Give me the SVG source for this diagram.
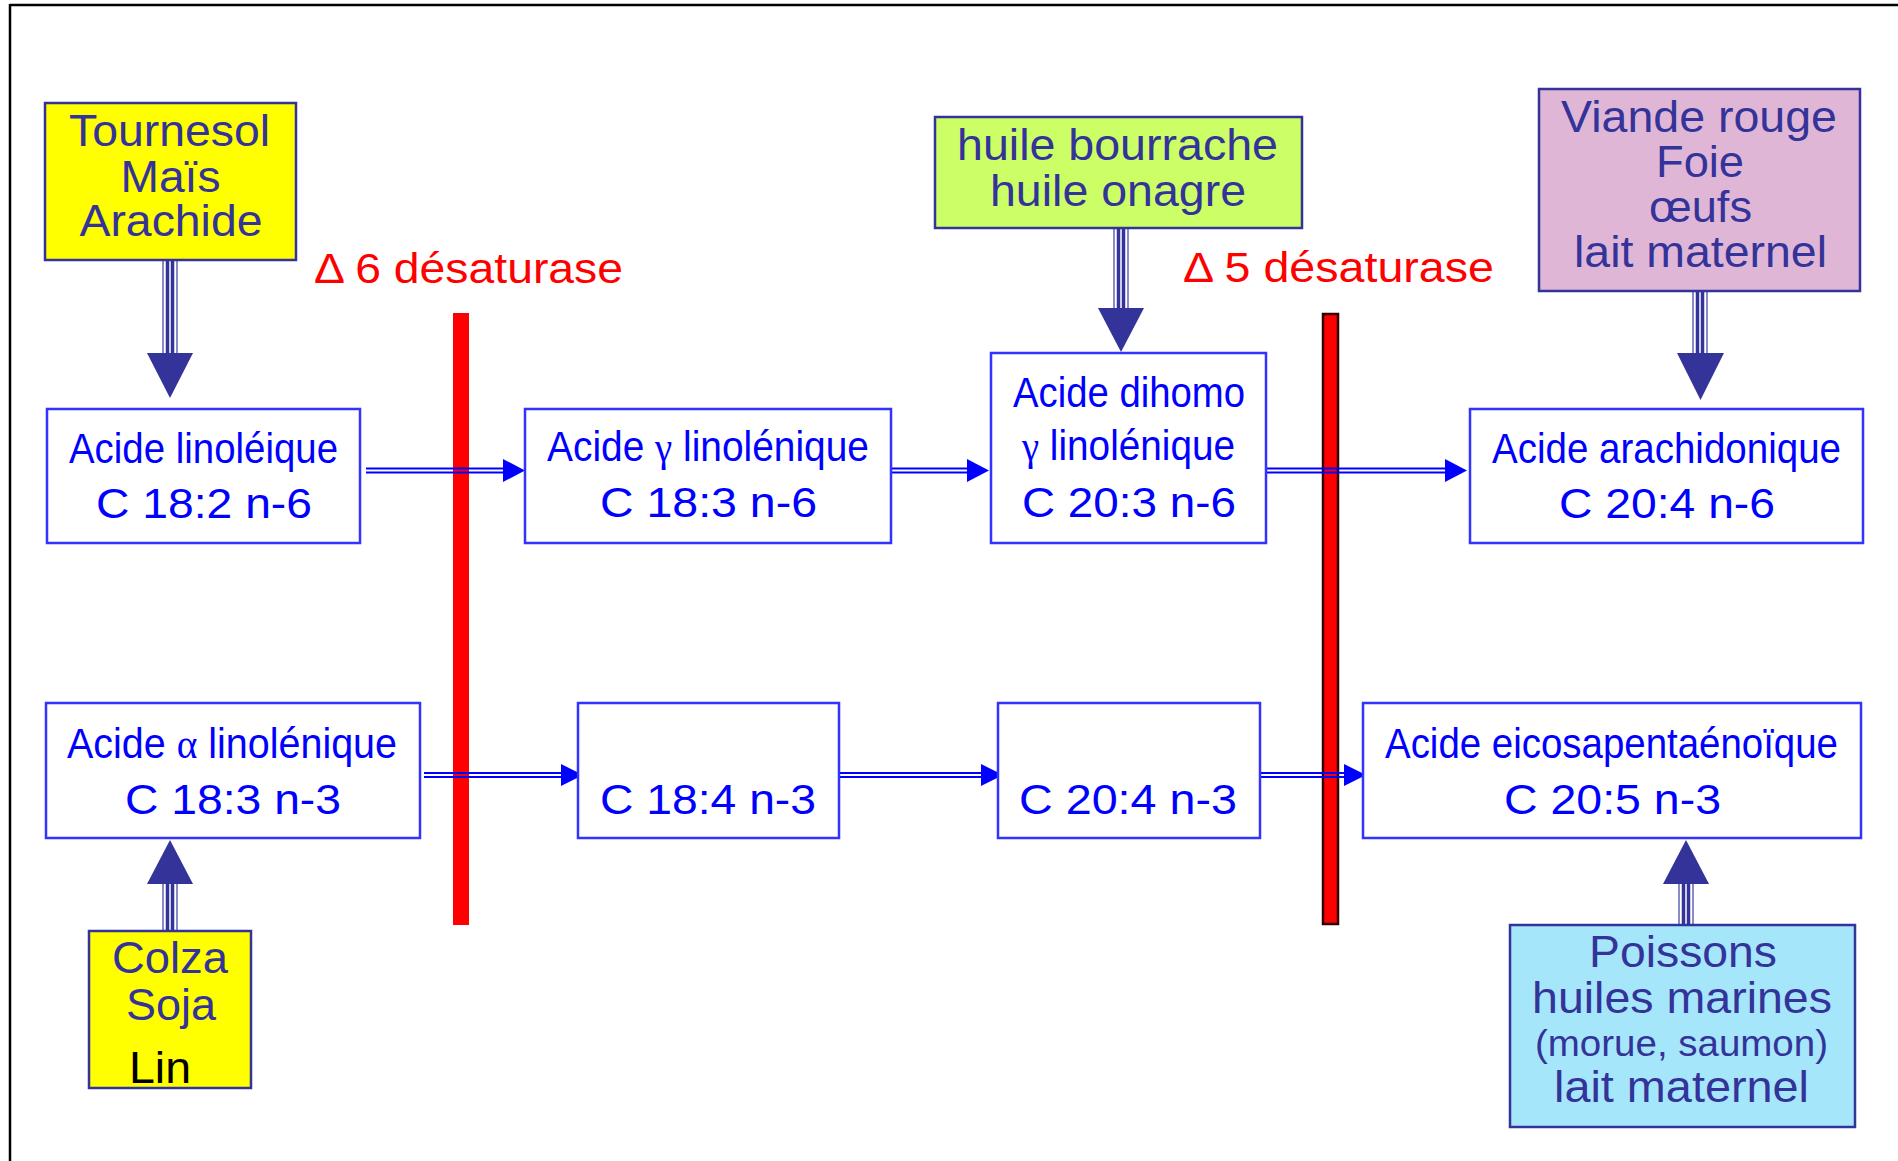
<svg xmlns="http://www.w3.org/2000/svg" width="1898" height="1161" viewBox="0 0 1898 1161">
<defs>
<style>
text{font-family:"Liberation Sans",Arial,sans-serif;}
.greek{font-family:"Liberation Serif","Times New Roman",serif;}
.node{fill:#ffffff;stroke:#3333ff;stroke-width:2.5;}
.nt{fill:#0000ff;font-size:43px;}
.src{stroke:#333399;stroke-width:2.5;}
.st{fill:#333399;font-size:44px;}
.enz{fill:#ff0000;font-size:42px;}
.hl{stroke:#0000ff;stroke-width:2.2;fill:none;}
.hh{fill:#0000ff;}
.vo{stroke:#8a8ac8;stroke-width:2;fill:none;}
.vi{stroke:#333399;stroke-width:3.5;fill:none;}
.vh{fill:#333399;}
</style>
</defs>
<rect x="0" y="0" width="1898" height="1161" fill="#ffffff"/>
<g id="frame">
<line x1="10" y1="5" x2="1898" y2="5" stroke="#000" stroke-width="2.5"/>
<line x1="10" y1="4" x2="10" y2="1161" stroke="#000" stroke-width="2.5"/>
</g>
<g id="enzymes">
<rect x="453" y="313" width="16" height="612" fill="#ff0000"/>
<rect x="1323" y="314" width="15" height="610" fill="#ff0000" stroke="#330000" stroke-width="2.5"/>
<text class="enz" x="314" y="283" textLength="309" lengthAdjust="spacingAndGlyphs">Δ 6 désaturase</text>
<text class="enz" x="1183" y="282" textLength="311" lengthAdjust="spacingAndGlyphs">Δ 5 désaturase</text>
</g>
<g id="connectors">
<g id="a1"><line class="hl" x1="366" y1="468.5" x2="506" y2="468.5"/><line class="hl" x1="366" y1="472.5" x2="506" y2="472.5"/><polygon class="hh" points="503,459 525,470.5 503,482"/></g>
<g id="a2"><line class="hl" x1="891" y1="468.5" x2="970" y2="468.5"/><line class="hl" x1="891" y1="472.5" x2="970" y2="472.5"/><polygon class="hh" points="967,459 989,470.5 967,482"/></g>
<g id="a3"><line class="hl" x1="1266" y1="468.5" x2="1448" y2="468.5"/><line class="hl" x1="1266" y1="472.5" x2="1448" y2="472.5"/><polygon class="hh" points="1445,459 1467,470.5 1445,482"/></g>
<g id="b1"><line class="hl" x1="424" y1="773" x2="564" y2="773"/><line class="hl" x1="424" y1="777" x2="564" y2="777"/><polygon class="hh" points="561,764 583,775 561,786"/></g>
<g id="b2"><line class="hl" x1="831" y1="773" x2="984" y2="773"/><line class="hl" x1="831" y1="777" x2="984" y2="777"/><polygon class="hh" points="981,764 1003,775 981,786"/></g>
<g id="b3"><line class="hl" x1="1250" y1="773" x2="1347" y2="773"/><line class="hl" x1="1250" y1="777" x2="1347" y2="777"/><polygon class="hh" points="1344,764 1366,775 1344,786"/></g>
<g id="s1"><line class="vo" x1="163" y1="260" x2="163" y2="354"/><line class="vo" x1="177" y1="260" x2="177" y2="354"/><line class="vi" x1="167.5" y1="260" x2="167.5" y2="354"/><line class="vi" x1="172.5" y1="260" x2="172.5" y2="354"/><polygon class="vh" points="147,353 193,353 170,398"/></g>
<g id="s2"><line class="vo" x1="1114" y1="228" x2="1114" y2="309"/><line class="vo" x1="1128" y1="228" x2="1128" y2="309"/><line class="vi" x1="1118.5" y1="228" x2="1118.5" y2="309"/><line class="vi" x1="1123.5" y1="228" x2="1123.5" y2="309"/><polygon class="vh" points="1098,308 1144,308 1121,352"/></g>
<g id="s3"><line class="vo" x1="1693" y1="291" x2="1693" y2="354"/><line class="vo" x1="1707" y1="291" x2="1707" y2="354"/><line class="vi" x1="1697.5" y1="291" x2="1697.5" y2="354"/><line class="vi" x1="1702.5" y1="291" x2="1702.5" y2="354"/><polygon class="vh" points="1677,353 1724,353 1700.5,400"/></g>
<g id="s4"><line class="vo" x1="163" y1="931" x2="163" y2="883"/><line class="vo" x1="177" y1="931" x2="177" y2="883"/><line class="vi" x1="167.5" y1="931" x2="167.5" y2="883"/><line class="vi" x1="172.5" y1="931" x2="172.5" y2="883"/><polygon class="vh" points="147,884 193,884 170,840"/></g>
<g id="s5"><line class="vo" x1="1679" y1="932" x2="1679" y2="883"/><line class="vo" x1="1693" y1="932" x2="1693" y2="883"/><line class="vi" x1="1683.5" y1="932" x2="1683.5" y2="883"/><line class="vi" x1="1688.5" y1="932" x2="1688.5" y2="883"/><polygon class="vh" points="1663,884 1709,884 1686,840"/></g>
</g>
<g id="tournesol">
<rect class="src" x="45" y="103" width="251" height="157" fill="#ffff00"/>
<text class="st" x="69" y="146" textLength="201" lengthAdjust="spacingAndGlyphs">Tournesol</text>
<text class="st" x="120.5" y="192" textLength="100" lengthAdjust="spacingAndGlyphs">Maïs</text>
<text class="st" x="79.5" y="236" textLength="183" lengthAdjust="spacingAndGlyphs">Arachide</text>
</g>
<g id="bourrache">
<rect class="src" x="935" y="117" width="367" height="111" fill="#ccff66"/>
<text class="st" x="957" y="160" textLength="321" lengthAdjust="spacingAndGlyphs">huile bourrache</text>
<text class="st" x="990" y="206" textLength="256" lengthAdjust="spacingAndGlyphs">huile onagre</text>
</g>
<g id="viande">
<rect class="src" x="1539" y="89" width="321" height="202" fill="#e0b6d6"/>
<text class="st" x="1561" y="132" textLength="276" lengthAdjust="spacingAndGlyphs">Viande rouge</text>
<text class="st" x="1656" y="177" textLength="88" lengthAdjust="spacingAndGlyphs">Foie</text>
<text class="st" x="1649" y="222" textLength="103" lengthAdjust="spacingAndGlyphs">œufs</text>
<text class="st" x="1574" y="267" textLength="253" lengthAdjust="spacingAndGlyphs">lait maternel</text>
</g>
<g id="colza">
<rect class="src" x="89" y="931" width="162" height="157" fill="#ffff00"/>
<text class="st" x="112" y="973" textLength="116" lengthAdjust="spacingAndGlyphs">Colza</text>
<text class="st" x="126" y="1020" textLength="90" lengthAdjust="spacingAndGlyphs">Soja</text>
<text class="st" x="129" y="1083" textLength="62" lengthAdjust="spacingAndGlyphs" style="fill:#000000">Lin</text>
</g>
<g id="poissons">
<rect class="src" x="1510" y="925" width="345" height="202" fill="#a6e6fa"/>
<text class="st" x="1589" y="967" textLength="188" lengthAdjust="spacingAndGlyphs">Poissons</text>
<text class="st" x="1532" y="1013" textLength="300" lengthAdjust="spacingAndGlyphs">huiles marines</text>
<text class="st" x="1535" y="1056" textLength="293" lengthAdjust="spacingAndGlyphs" style="font-size:36px">(morue, saumon)</text>
<text class="st" x="1554" y="1102" textLength="255" lengthAdjust="spacingAndGlyphs">lait maternel</text>
</g>
<g id="linoleique">
<rect class="node" x="47" y="409" width="313" height="134"/>
<text class="nt" x="69" y="463" textLength="269" lengthAdjust="spacingAndGlyphs">Acide linoléique</text>
<text class="nt" x="96" y="518" textLength="216" lengthAdjust="spacingAndGlyphs">C 18:2 n-6</text>
</g>
<g id="gamma">
<rect class="node" x="525" y="409" width="366" height="134"/>
<text class="nt" x="547" y="461" textLength="322" lengthAdjust="spacingAndGlyphs">Acide <tspan class="greek">γ</tspan> linolénique</text>
<text class="nt" x="600" y="517" textLength="217" lengthAdjust="spacingAndGlyphs">C 18:3 n-6</text>
</g>
<g id="dihomo">
<rect class="node" x="991" y="353" width="275" height="190"/>
<text class="nt" x="1013" y="407" textLength="232" lengthAdjust="spacingAndGlyphs">Acide dihomo</text>
<text class="nt" x="1022" y="460" textLength="213" lengthAdjust="spacingAndGlyphs"><tspan class="greek">γ</tspan> linolénique</text>
<text class="nt" x="1022" y="517" textLength="214" lengthAdjust="spacingAndGlyphs">C 20:3 n-6</text>
</g>
<g id="arachidonique">
<rect class="node" x="1470" y="409" width="393" height="134"/>
<text class="nt" x="1492" y="463" textLength="349" lengthAdjust="spacingAndGlyphs">Acide arachidonique</text>
<text class="nt" x="1559" y="518" textLength="216" lengthAdjust="spacingAndGlyphs">C 20:4 n-6</text>
</g>
<g id="alpha">
<rect class="node" x="46" y="703" width="374" height="135"/>
<text class="nt" x="67" y="758" textLength="330" lengthAdjust="spacingAndGlyphs">Acide <tspan class="greek">α</tspan> linolénique</text>
<text class="nt" x="125" y="814" textLength="216" lengthAdjust="spacingAndGlyphs">C 18:3 n-3</text>
</g>
<g id="c184">
<rect class="node" x="578" y="703" width="261" height="135"/>
<text class="nt" x="600" y="814" textLength="216" lengthAdjust="spacingAndGlyphs">C 18:4 n-3</text>
</g>
<g id="c204">
<rect class="node" x="998" y="703" width="262" height="135"/>
<text class="nt" x="1019" y="814" textLength="218" lengthAdjust="spacingAndGlyphs">C 20:4 n-3</text>
</g>
<g id="epa">
<rect class="node" x="1363" y="703" width="498" height="135"/>
<text class="nt" x="1385" y="758" textLength="453" lengthAdjust="spacingAndGlyphs">Acide eicosapentaénoïque</text>
<text class="nt" x="1504" y="814" textLength="217" lengthAdjust="spacingAndGlyphs">C 20:5 n-3</text>
</g>
</svg>
